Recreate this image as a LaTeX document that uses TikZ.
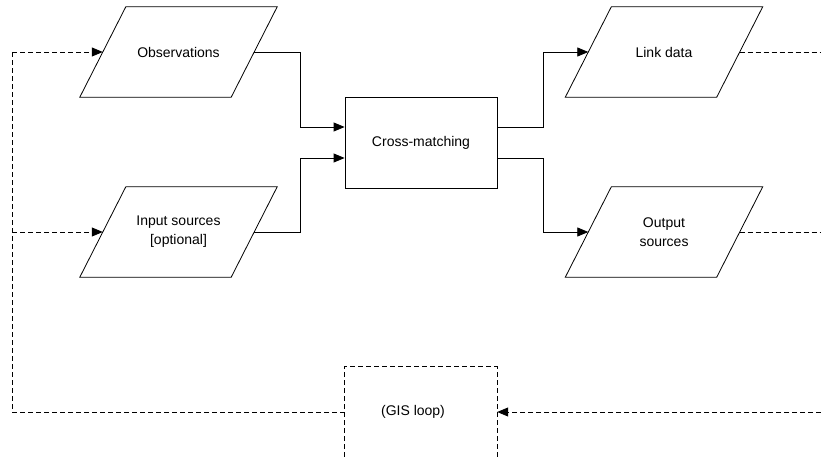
\documentclass[tikz,border=0pt]{standalone}
\usepackage{fontspec}
\setmainfont{Liberation Sans}
\usetikzlibrary{arrows.meta}
\tikzset{
  para/.style={minimum width=151pt, minimum height=90pt, inner sep=0pt, align=center,
    font=\fontsize{14}{19}\selectfont},
  procbox/.style={draw, line width=0.8pt, minimum width=152pt, minimum height=91pt, inner sep=0pt,
    font=\fontsize{14}{19}\selectfont},
  conn/.style={line width=0.8pt},
  arr/.style={conn, -{Triangle[length=11pt,width=9pt]}},
  dline/.style={conn, dash pattern=on 5pt off 3pt},
  darr/.style={dline, -{Triangle[length=11pt,width=9pt]}},
  lbl/.style={font=\fontsize{14}{19}\selectfont, inner sep=0pt}
}
\newcommand\paraoutline[1]{%
  \draw[conn] ([xshift=-23pt]#1.south west) -- ([xshift=-23pt]#1.south east)
    -- ([xshift=23pt]#1.north east) -- ([xshift=23pt]#1.north west) -- cycle;}
\begin{document}
\begin{tikzpicture}[x=1pt,y=-1pt]
\useasboundingbox (0,0) rectangle (821,457);
% nodes
\node[para] (obs) at (178.5,52) {Observations};
\node[para] (inp) at (178.5,232) {Input sources\\{}[optional]};
\node[procbox] (cm) at (421,142.5) {Cross-matching};
\node[para] (link) at (664,52) {Link data};
\node[para] (out) at (664,232) {Output\\sources};
\paraoutline{obs}
\paraoutline{inp}
\paraoutline{link}
\paraoutline{out}
\node[minimum width=152pt, minimum height=90pt, inner sep=0pt] (gis) at (421,412) {};
\node[lbl] (gislabel) at (413,412) {(GIS loop)};
\draw[dline] (gis.south west) -- (gis.north west) -- (gis.north east) -- (gis.south east);
% coordinates
\coordinate (lt) at (12,52);
\coordinate (lm) at (12,232);
\coordinate (lb) at (12,412);
\coordinate (r1) at (821,52);
\coordinate (r2) at (821,232);
\coordinate (r3) at (821,412);
% solid connectors
\draw[arr] (obs.east) -- (300,52) |- ([yshift=15.5pt]cm.west);
\draw[arr] (inp.east) -- (300,232) |- ([yshift=-15.5pt]cm.west);
\draw[arr] ([yshift=15.5pt]cm.east) -- (543,127) |- (link.west);
\draw[arr] ([yshift=-15.5pt]cm.east) -- (543,158) |- (out.west);
% dashed connectors
\draw[dline] (link.east) -- (r1);
\draw[dline] (out.east) -- (r2);
\draw[darr] (r3) -- (gis.east);
\draw[dline] (gis.west) -- (lb) -- (lt);
\draw[darr] (lt) -- (obs.west);
\draw[darr] (lm) -- (inp.west);
\end{tikzpicture}
\end{document}
